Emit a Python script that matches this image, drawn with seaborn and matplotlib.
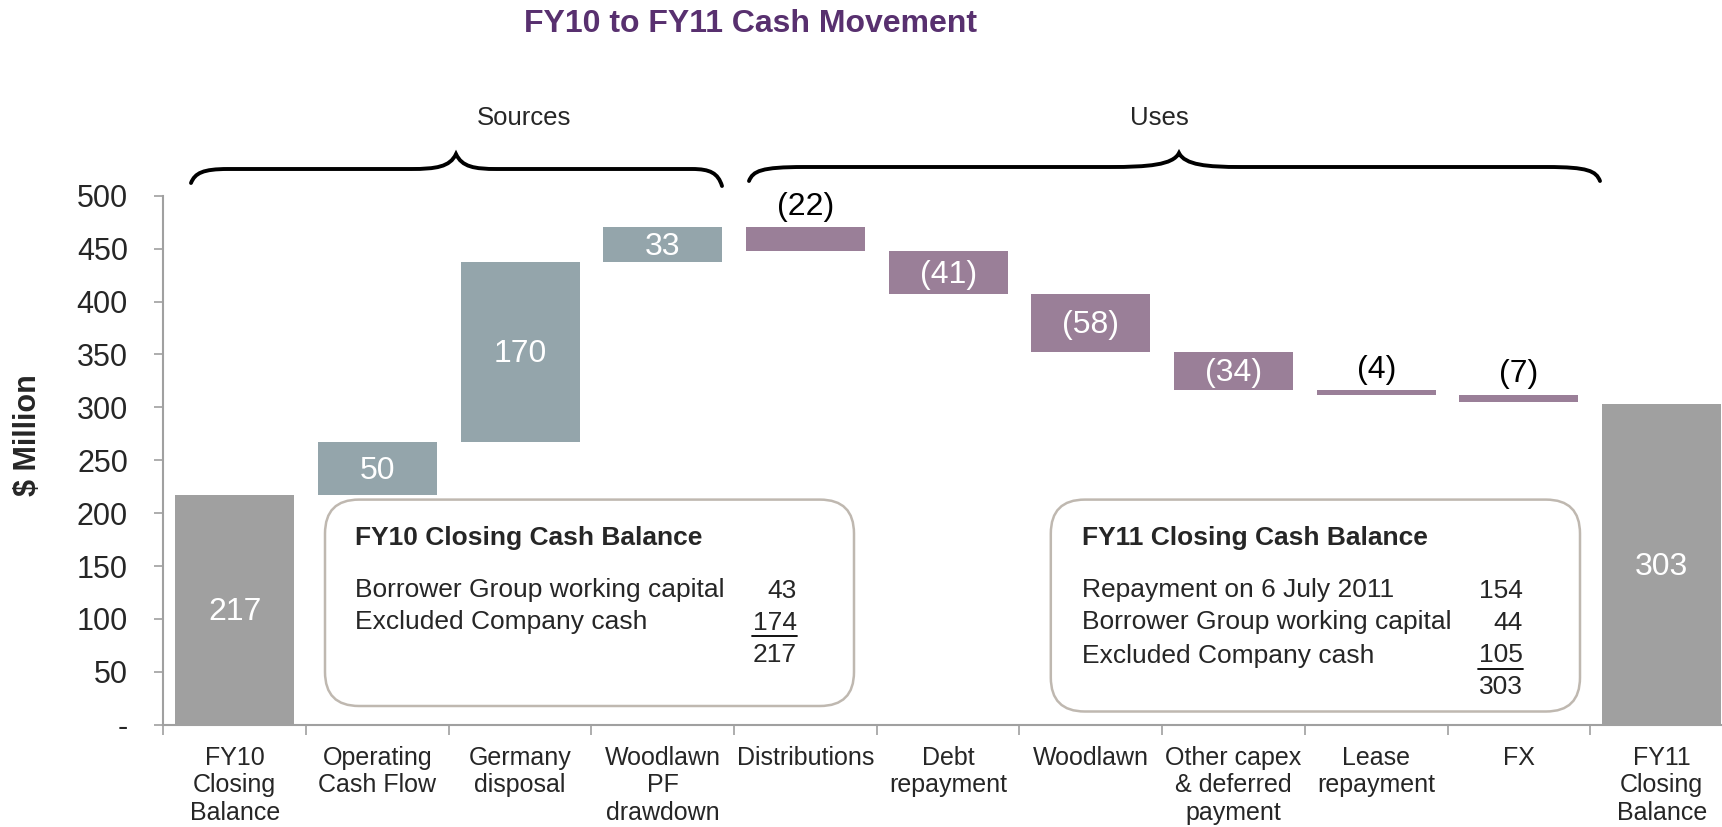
import matplotlib
matplotlib.use("Agg")
import matplotlib.pyplot as plt
import seaborn as sns
import numpy as np
import pandas as pd
from matplotlib.patches import FancyBboxPatch, PathPatch
from matplotlib.path import Path
from matplotlib.lines import Line2D
from matplotlib.ticker import FuncFormatter, FixedLocator

# ---------------- data ----------------
categories = ["FY10\nClosing\nBalance", "Operating\nCash Flow", "Germany\ndisposal",
              "Woodlawn\nPF\ndrawdown", "Distributions", "Debt\nrepayment", "Woodlawn",
              "Other capex\n& deferred\npayment", "Lease\nrepayment", "FX",
              "FY11\nClosing\nBalance"]
label_values = [217, 50, 170, 33, -22, -41, -58, -34, -4, -7, 303]
# bar lengths as drawn in the picture
drawn_changes = [217, 50, 170, 33, -22, -41, -55, -36, -4, -7, 303]
kinds = ["total", "source", "source", "source", "use", "use", "use", "use", "use", "use", "total"]
label_inside = [True, True, True, True, False, True, True, True, False, False, True]

group_names = ["Sources", "Uses"]

box1_title = "FY10 Closing Cash Balance"
box1_items = ["Borrower Group working capital", "Excluded Company cash", ""]
box1_values = ["43", "174", "217"]
box2_title = "FY11 Closing Cash Balance"
box2_items = ["Repayment on 6 July 2011", "Borrower Group working capital",
              "Excluded Company cash", ""]
box2_values = ["154", "44", "105", "303"]

y_ticks = [0, 50, 100, 150, 200, 250, 300, 350, 400, 450, 500]

colors = {"total": "#A0A0A0", "source": "#94A5AB", "use": "#9A7F98"}

# ---------------- waterfall geometry ----------------
bottoms, heights = [], []
running = 0
for ch, k in zip(drawn_changes, kinds):
    if k == "total":
        bottoms.append(0)
        heights.append(ch)
        running = ch
    else:
        new = running + ch
        bottoms.append(min(running, new))
        heights.append(abs(ch))
        running = new

df = pd.DataFrame({"category": categories, "height": heights, "bottom": bottoms})

W, H = 1722, 827
sns.set_style("white")
plt.rcParams["font.family"] = ["Liberation Sans", "DejaVu Sans"]

fig = plt.figure(figsize=(W / 100, H / 100), dpi=100)
ax = fig.add_axes([163.3 / W, (H - 724.7) / H, 11 * 142.7 / W, (724.7 - 195.7) / H])

sns.barplot(data=df, x="category", y="height", bottom=df["bottom"].to_numpy(),
            color=colors["total"], width=0.834, ax=ax, saturation=1)
for patch, k in zip(ax.patches, kinds):
    patch.set_facecolor(colors[k])
    patch.set_edgecolor("none")

ax.set_xlim(-0.5, len(categories) - 0.5)
ax.set_ylim(0, 500)
ax.set_xlabel("")
ax.set_ylabel("")

# bar labels
for i, (lv, b, h, inside) in enumerate(zip(label_values, bottoms, heights, label_inside)):
    txt = f"({abs(lv)})" if lv < 0 else f"{lv}"
    if inside:
        ax.text(i, b + h / 2 - 2, txt, ha="center", va="center", color="white", fontsize=23)
    else:
        ax.text(i, b + h + 5, txt, ha="center", va="bottom", color="black", fontsize=23)

# axes styling
for s in ["top", "right"]:
    ax.spines[s].set_visible(False)
for s in ["left", "bottom"]:
    ax.spines[s].set_color("#A0A0A0")
    ax.spines[s].set_linewidth(1.5)
ax.set_yticks(y_ticks)
ax.yaxis.set_major_formatter(FuncFormatter(lambda v, p: "-" if v == 0 else f"{int(v)}"))
ax.tick_params(axis="y", which="major", length=6.5, width=1.2, color="#A0A0A0",
               labelsize=22, pad=19, left=True, direction="out")
ax.set_xticks(range(len(categories)))
ax.set_xticklabels(categories)
ax.xaxis.set_minor_locator(FixedLocator(np.arange(-0.5, len(categories), 1.0)))
ax.tick_params(axis="x", which="major", length=0, labelsize=18, pad=15)
ax.tick_params(axis="x", which="minor", length=7, width=1.2, color="#A0A0A0",
               bottom=True, direction="out")

# ---------------- figure decorations (pixel -> inches) ----------------
T = fig.dpi_scale_trans
def X(px):
    return px / 100.0
def Y(py):
    return (H - py) / 100.0

fig.text(X(750), Y(24), "FY10 to FY11 Cash Movement", transform=T, ha="center", va="center",
         fontsize=23, fontweight="bold", color="#58306F")

fig.text(X(28.5), Y(435), "$ Million", transform=T, rotation=90, ha="center", va="center",
         fontsize=22, fontweight="bold")

def brace(x0, xa, xb, xp, xc, xd, x1, y_line, y_peak, y_end0, y_end1):
    verts = [
        (x0, y_end0),
        (x0 + 4, y_line + 4), (x0 + 12, y_line), (xa, y_line),
        (xb, y_line),
        (xb + (xp - xb) * 0.55, y_line), (xp - 6, y_line - 2), (xp, y_peak),
        (xp + 6, y_line - 2), (xc - (xc - xp) * 0.55, y_line), (xc, y_line),
        (xd, y_line),
        (x1 - 12, y_line), (x1 - 4, y_line + 4), (x1, y_end1),
    ]
    codes = [Path.MOVETO,
             Path.CURVE4, Path.CURVE4, Path.CURVE4,
             Path.LINETO,
             Path.CURVE4, Path.CURVE4, Path.CURVE4,
             Path.CURVE4, Path.CURVE4, Path.CURVE4,
             Path.LINETO,
             Path.CURVE4, Path.CURVE4, Path.CURVE4]
    verts = [(X(a), Y(b)) for a, b in verts]
    p = PathPatch(Path(verts, codes), facecolor="none", edgecolor="black", lw=2.8,
                  transform=T, capstyle="round")
    fig.add_artist(p)

brace(191, 228, 411, 456, 497, 692, 722, 169, 154, 183, 186)
brace(749, 804, 1110, 1179, 1241, 1547, 1600, 167, 153, 181, 181)

fig.text(X(524), Y(118), group_names[0], transform=T, ha="center", va="center", fontsize=18.5)
fig.text(X(1159.5), Y(118), group_names[1], transform=T, ha="center", va="center", fontsize=18.5)

def info_box(x0, x1, y0, y1, title, items, values, tx, nx, rows, underline_idx):
    box = FancyBboxPatch((X(x0), Y(y1)), X(x1 - x0), (y1 - y0) / 100.0,
                         boxstyle="round,pad=0,rounding_size=0.34",
                         facecolor="white", edgecolor="#BFB8B0", lw=1.8, transform=T)
    fig.add_artist(box)
    fig.text(X(tx), Y(538), title, transform=T, ha="left", va="center",
             fontsize=19, fontweight="bold")
    for i, (it, v) in enumerate(zip(items, values)):
        if it:
            fig.text(X(tx), Y(rows[i]), it, transform=T, ha="left", va="center", fontsize=19)
        fig.text(X(nx), Y(rows[i]), v, transform=T, ha="right", va="center", fontsize=19)
    uy = rows[underline_idx] + 13
    fig.add_artist(Line2D([X(nx - 45), X(nx)], [Y(uy), Y(uy)], color="black", lw=1.3,
                          transform=T))

info_box(325, 854, 499.6, 706, box1_title, box1_items, box1_values, 354.6, 797,
         [590.5, 622.5, 655.5], 1)
info_box(1050.8, 1580, 499.6, 711.5, box2_title, box2_items, box2_values, 1081.5, 1523,
         [590.5, 622.5, 655.5, 687.5], 2)

fig.savefig("out.png", dpi=100)
